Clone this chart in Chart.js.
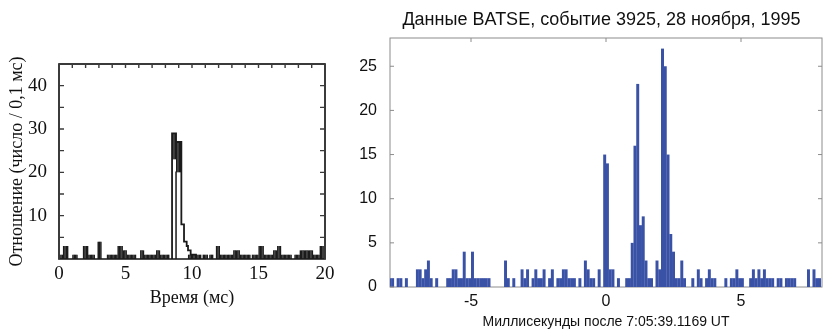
<!DOCTYPE html>
<html><head><meta charset="utf-8">
<script src="https://cdn.jsdelivr.net/npm/chart.js@4.4.1/dist/chart.umd.min.js"></script>
<style>
html,body{margin:0;padding:0;background:#fff;width:823px;height:329px;overflow:hidden;position:relative}
#l{position:absolute;left:0;top:0}
#r{position:absolute;left:340px;top:0}
</style></head><body>
<canvas id="l" width="340" height="329"></canvas>
<canvas id="r" width="523" height="329"></canvas>
<script>
// ---------- Left panel data (counts per 0.1 ms bin, 0..20 ms) ----------
const leftBinStart = 0;
const leftBinWidth = 0.1;
const leftNoise = [
1,1,1,3,3,3,3,0,0,0,
1,1,1,1,0,0,0,0,3,3,
3,3,1,1,1,1,1,0,0,4,
4,4,0,0,0,0,1,1,1,1,
1,1,1,1,3,3,3,3,2,2,
2,1,1,1,1,1,1,1,0,0,
0,2,2,2,1,1,1,1,1,1,
1,1,1,2,2,2,1,1,1,1,
1,1,1,0,0,0,0,0,0,0,
0,0,0,0,0,0,0,1,1,1,
1,1,1,1,1,1,1,0,1,1,
1,1,0,1,1,1,0,0,3,3,
3,1,1,1,1,1,1,1,1,1,
1,2,2,2,2,2,1,1,1,1,
1,1,1,1,0,1,1,1,1,1,
3,3,3,3,1,1,1,1,1,1,
1,2,2,2,3,3,3,1,1,1,
1,1,1,1,1,0,0,1,1,1,
1,2,2,2,2,2,2,2,2,2,
2,1,1,1,1,1,3,3,3,3
];
const leftPeakFirstBin = 84;
const leftPeakOuter = [0,29,29,29,27,27,27,27,8,8,4,4,3,2,2,1,1,1,1,0];
const leftBandFirstBin = 85;
const leftBandLow  = [23,23,23,20,20,20,20];
const leftBandHigh = [29,29,29,27,27,27,27];
const leftInnerFirstBin = 87;
const leftInner = [0,20];
const leftXTicks = [0,5,10,15,20];
const leftYTicks = [10,20,30,40];
const leftTopMinor = [1,2,3,4,5,6,7,8,9,10,11,12,13,14,15,16,17,18,19];
const leftSideMinor = [5,10,15,20,25,30,35,40];

// ---------- Right panel data (BATSE counts per bin) ----------
const rightBinStart = -8.056;
const rightBinWidth = 0.102;
const rightCounts = [
1,1,0,1,1,0,1,0,0,0,
2,2,1,2,3,1,0,1,0,0,
0,1,1,2,2,1,1,4,1,1,
4,1,1,1,1,1,1,0,0,0,
0,0,3,1,0,1,0,0,2,1,
2,0,1,2,1,1,2,0,1,2,
0,1,1,2,2,1,1,1,0,1,
0,3,2,1,1,0,2,0,15,14,
2,2,0,1,0,0,1,1,5,16,
23,7,8,3,1,1,0,3,2,27,
25,15,6,4,1,1,3,1,0,0,
1,0,2,1,0,1,2,1,1,0,
0,0,1,0,1,1,2,1,1,0,
0,1,2,1,2,1,2,1,1,1,
0,1,1,0,1,1,1,1,0,0,
0,0,2,0,2,1,1
];
const rightXTicks = [-5,0,5];
const rightYTicks = [0,5,10,15,20,25];
const rightRightTicks = [5,10,15,20,25];

const SERIF = "'Liberation Serif','Times New Roman',serif";
const SANS = "'Liberation Sans',Arial,sans-serif";

const framePlugin = {
  id: 'frame',
  beforeDatasetsDraw(chart, args, o) {
    const {ctx, chartArea: a} = chart;
    ctx.save();
    ctx.strokeStyle = o.color; ctx.lineWidth = o.lineWidth;
    ctx.strokeRect(a.left, a.top, a.right - a.left, a.bottom - a.top);
    ctx.restore();
  },
  afterDatasetsDraw(chart, args, o) {
    const {ctx, chartArea: a, scales: {x, y}} = chart;
    ctx.save();
    ctx.strokeStyle = o.color; ctx.lineWidth = o.tickWidth;
    ctx.beginPath();
    (o.top || []).forEach(v => { const p = x.getPixelForValue(v); ctx.moveTo(p, a.top); ctx.lineTo(p, a.top + o.topLen); });
    (o.left || []).forEach(v => { const p = y.getPixelForValue(v); ctx.moveTo(a.left, p); ctx.lineTo(a.left + o.sideLen, p); });
    (o.right || []).forEach(v => { const p = y.getPixelForValue(v); ctx.moveTo(a.right, p); ctx.lineTo(a.right - o.sideLen, p); });
    ctx.stroke();
    if (o.redrawTop) {
      ctx.lineWidth = o.lineWidth;
      ctx.beginPath(); ctx.moveTo(a.left, a.top); ctx.lineTo(a.right, a.top);
      ctx.moveTo(a.left, a.top); ctx.lineTo(a.left, a.bottom);
      ctx.moveTo(a.right, a.top); ctx.lineTo(a.right, a.bottom);
      ctx.stroke();
    }
    ctx.restore();
  }
};

const binX = (start, w, i) => start + (i + 0.5) * w;

// ---------- Left chart ----------
new Chart(document.getElementById('l'), {
  type: 'bar',
  data: {
    datasets: [
      {
        type: 'bar',
        data: leftNoise.map((v, i) => ({x: binX(leftBinStart, leftBinWidth, i), y: v})),
        backgroundColor: '#1b1b1b', borderWidth: 0,
        barPercentage: 1.1, categoryPercentage: 1, grouped: false, order: 3
      },
      {
        type: 'bar',
        data: leftBandLow.map((v, k) => ({x: binX(leftBinStart, leftBinWidth, leftBandFirstBin + k), y: [v, leftBandHigh[k]]})),
        backgroundColor: '#1b1b1b', borderWidth: 0,
        barPercentage: 1.1, categoryPercentage: 1, grouped: false, order: 2
      },
      {
        type: 'line',
        data: leftPeakOuter.map((v, k) => ({x: binX(leftBinStart, leftBinWidth, leftPeakFirstBin + k), y: v})),
        borderColor: '#1b1b1b', borderWidth: 1.8, stepped: 'middle', pointRadius: 0, fill: false, order: 1
      },
      {
        type: 'line',
        data: leftInner.map((v, k) => ({x: binX(leftBinStart, leftBinWidth, leftInnerFirstBin + k), y: v})),
        borderColor: '#1b1b1b', borderWidth: 1.5, stepped: 'middle', pointRadius: 0, fill: false, order: 1
      }
    ]
  },
  options: {
    responsive: false, animation: false,
    layout: {padding: {top: 64, right: 15, bottom: 0, left: 0}},
    plugins: {
      legend: {display: false}, tooltip: {enabled: false},
      frame: {color: '#3a3a3a', lineWidth: 1.8, tickWidth: 1.4, topLen: 4, sideLen: 5,
              top: leftTopMinor, left: leftSideMinor, right: leftSideMinor, redrawTop: true}
    },
    scales: {
      x: {
        type: 'linear', min: 0, max: 20, offset: false,
        grid: {display: false, offset: false}, border: {display: false},
        afterFit: s => { s.height = 70; },
        afterBuildTicks: s => { s.ticks = leftXTicks.map(v => ({value: v})); },
        ticks: {font: {family: SERIF, size: 19}, color: '#111', padding: -4, maxRotation: 0, autoSkip: false},
        title: {display: true, text: 'Время (мс)', font: {family: SERIF, size: 18}, color: '#111', padding: {top: 0, bottom: 20}}
      },
      y: {
        min: 0, max: 45,
        grid: {display: false}, border: {display: false},
        afterFit: s => { s.width = 59; },
        afterBuildTicks: s => { s.ticks = leftYTicks.map(v => ({value: v})); },
        ticks: {font: {family: SERIF, size: 19}, color: '#111', padding: 4},
        title: {display: true, text: 'Отношение (число / 0,1 мс)', font: {family: SERIF, size: 18}, color: '#111', padding: {top: 6, bottom: 0}}
      }
    }
  },
  plugins: [framePlugin]
});

// ---------- Right chart ----------
new Chart(document.getElementById('r'), {
  type: 'bar',
  data: {
    datasets: [{
      data: rightCounts.map((v, i) => ({x: binX(rightBinStart, rightBinWidth, i), y: v})),
      backgroundColor: '#3a52a6', borderWidth: 0,
      barPercentage: 1.08, categoryPercentage: 1, grouped: false
    }]
  },
  options: {
    responsive: false, animation: false,
    layout: {padding: {top: 0, right: 0, bottom: 0, left: 0}},
    plugins: {
      legend: {display: false}, tooltip: {enabled: false},
      title: {display: true, text: 'Данные BATSE, событие 3925, 28 ноября, 1995',
              font: {family: SANS, size: 18, weight: 'normal'}, color: '#111', padding: {top: 9, bottom: 7.4}},
      frame: {color: '#8c8c8c', lineWidth: 1, tickWidth: 1, topLen: 4, sideLen: 4,
              top: rightXTicks, left: rightYTicks, right: rightRightTicks}
    },
    scales: {
      x: {
        type: 'linear', min: -8, max: 8, offset: false,
        grid: {display: false, offset: false}, border: {display: false},
        afterFit: s => { s.height = 42; },
        afterBuildTicks: s => { s.ticks = rightXTicks.map(v => ({value: v})); },
        ticks: {font: {family: SANS, size: 16}, color: '#111', padding: -3, maxRotation: 0, autoSkip: false},
        title: {display: true, text: 'Миллисекунды после 7:05:39.1169 UT', font: {family: SANS, size: 14, lineHeight: 1}, color: '#111', padding: {top: 0, bottom: 0}}
      },
      y: {
        min: 0, max: 28.2,
        grid: {display: false}, border: {display: false},
        afterFit: s => { s.width = 50; },
        afterBuildTicks: s => { s.ticks = rightYTicks.map(v => ({value: v})); },
        ticks: {font: {family: SANS, size: 16}, color: '#111', padding: 5}
      },
      yPad: {
        position: 'right', min: 0, max: 28.2, display: true,
        grid: {display: false}, border: {display: false},
        afterFit: s => { s.width = 41; },
        ticks: {display: false}
      }
    }
  },
  plugins: [framePlugin]
});
</script>
</body></html>
